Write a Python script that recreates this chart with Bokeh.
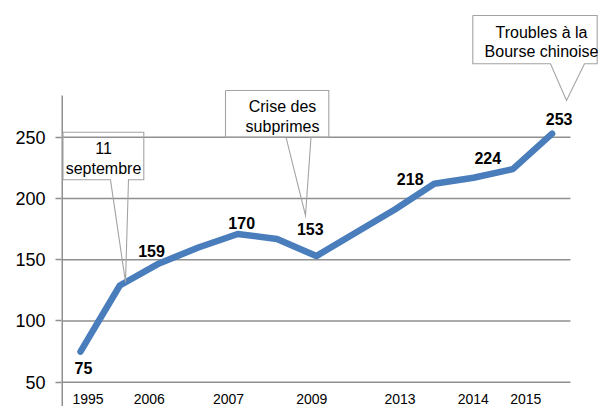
from bokeh.plotting import figure
from bokeh.models import FixedTicker, Range1d
from bokeh.core.properties import value
from bokeh.embed import file_html
from bokeh.resources import INLINE

# ---------------- data ----------------
values = [75, 129, 147, 160, 171, 167, 153, 172, 191, 212, 217, 224, 253]
data_labels = ["75", "159", "170", "153", "218", "224", "253"]
data_label_points = [0, 2, 4, 6, 9, 11, 12]
x_tick_labels = ["1995", "2006", "2007", "2009", "2013", "2014", "2015"]
y_ticks = [50, 100, 150, 200, 250]
callout_texts = [["11", "septembre"], ["Crise des", "subprimes"], ["Troubles à la", "Bourse chinoise"]]

# ---------------- layout ----------------
W, H = 599, 406
FRAME_LEFT = 61
X0, X1 = -0.4835, 13.206
Y0, Y1 = 30.16, 361.72
PXX = (W - FRAME_LEFT) / (X1 - X0)
PXY = H / (Y1 - Y0)


def dx(px):
    return X0 + (px - FRAME_LEFT) / PXX


def dy(py):
    return Y0 + (H - py) / PXY


FONT = value("Liberation Sans")
GRID = "#8f8f8f"
BLUE = "#4a7dbb"

p = figure(width=W, height=H, output_backend="svg", toolbar_location=None,
           x_range=Range1d(X0, X1), y_range=Range1d(Y0, Y1),
           x_axis_location=None, min_border_left=FRAME_LEFT, min_border_right=0,
           min_border_top=0, min_border_bottom=0)
p.outline_line_color = None
p.xgrid.visible = False
p.ygrid.visible = False
p.background_fill_color = "white"
p.border_fill_color = "white"

# y axis (ticks + labels only; line drawn below)
ax = p.yaxis[0]
ax.ticker = FixedTicker(ticks=y_ticks)
ax.axis_line_color = None
ax.major_tick_in = 0
ax.major_tick_out = 6
ax.major_tick_line_color = GRID
ax.major_tick_line_width = 1.5
ax.minor_tick_line_color = None
ax.major_label_standoff = 10
ax.major_label_text_font = "Liberation Sans"
ax.major_label_text_font_size = "18px"
ax.major_label_text_color = "black"

# gridlines and axis line
grid_end = dx(570)
p.segment(x0=[X0] * len(y_ticks), x1=[grid_end] * len(y_ticks), y0=y_ticks, y1=y_ticks,
          line_color=GRID, line_width=1.5)
p.segment(x0=[dx(61.5)], x1=[dx(61.5)], y0=[Y0], y1=[dy(95)], line_color=GRID, line_width=2)

# x tick labels
x_tick_px = [87.5, 148.7, 228, 311.3, 399.5, 472.8, 525.3]
p.text(x=[dx(v) for v in x_tick_px], y=[dy(398.5)] * len(x_tick_labels), text=x_tick_labels,
       text_font=FONT, text_font_size="14px", text_color="black",
       text_align="center", text_baseline="middle")

# main line
xs = list(range(len(values)))
p.line(xs, values, line_color=BLUE, line_width=6.5, line_cap="round", line_join="round")

# data labels
label_off = [(3, 16.3), (-7.6, -12.7), (4, -11), (-6, -27), (-24, -4.5), (-25, -11), (7, -15)]
lx = [data_label_points[i] + label_off[i][0] / PXX for i in range(len(data_labels))]
ly = [values[data_label_points[i]] - label_off[i][1] / PXY for i in range(len(data_labels))]
p.text(x=lx, y=ly, text=data_labels, text_font=FONT, text_font_size="16px",
       text_font_style="bold", text_color="black", text_align="center", text_baseline="middle")

# callouts: box (l, t, r, b), pointer base (xl, xr), tip, text center x, line centers
callouts = [
    dict(box=(62.5, 131.7, 143.3, 179.3), base=(110, 128), tip=(125, 281.7), cx=103, ly=[147.5, 167.5]),
    dict(box=(225, 90, 328.3, 136.7), base=(285.5, 310.5), tip=(305, 215), cx=282, ly=[105.5, 126]),
    dict(box=(472.3, 15, 596.7, 63.3), base=(550, 584), tip=(566, 100), cx=541, ly=[32, 50.5]),
]
for c, texts in zip(callouts, callout_texts):
    l, t, r, b = c["box"]
    bx0, bx1 = c["base"]
    tx, ty = c["tip"]
    pts = [(l, t), (r, t), (r, b), (bx1, b), (tx, ty), (bx0, b), (l, b), (l, t)]
    p.line([dx(a) for a, _ in pts], [dy(bb) for _, bb in pts], line_color="#a3a3a3", line_width=1.1,
           line_join="miter")
    p.text(x=[dx(c["cx"])] * len(texts), y=[dy(v) for v in c["ly"]], text=texts,
           text_font=FONT, text_font_size="16px", text_color="black",
           text_align="center", text_baseline="middle")

open("out.html", "w").write(file_html(p, INLINE))
